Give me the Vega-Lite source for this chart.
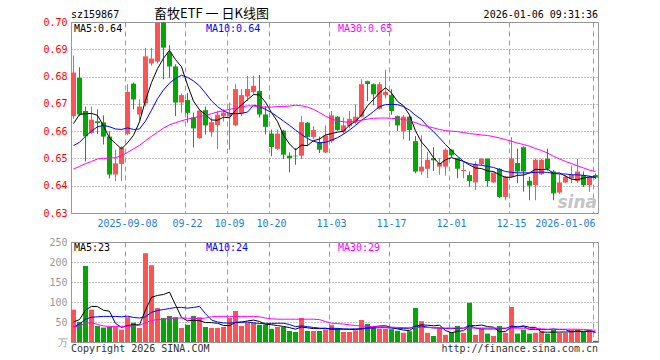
{
"$schema":"https://vega.github.io/schema/vega-lite/v6.json",
"background":"white",
"padding":{"left":10,"top":7,"right":5,"bottom":5},
"bounds":"flush",
"spacing":29,
"config":{"view":{"stroke":"#999999","strokeWidth":1},
"axis":{"domain":false,"ticks":false,"tickSize":0,"labelFont":"DejaVu Sans Mono","labelFontSize":10,"gridColor":"#9a9a9a","gridWidth":1},
"axisY":{"labelOverlap":false,"labelFlush":false,"labelBound":false,"grid":true,"gridDash":[1,2],"gridColor":"#8c8c8c","labelPadding":4,"minExtent":60,"maxExtent":60,"tickCount":12},
"text":{"font":"DejaVu Sans Mono","fontSize":10}},
"datasets":{"k":[
{"t":"2025-08-26","o":0.6655,"h":0.6877,"l":0.6645,"c":0.6815,"v":81,"d":"u","m5":0.6628,"m10":0.6547,"m30":0.6461,"v5":50,"v10":37.5,"v30":37.5},
{"t":"2025-08-27","o":0.6795,"h":0.6834,"l":0.6655,"c":0.6661,"v":50,"d":"d","m5":0.6661,"m10":0.6559,"m30":0.6471,"v5":56,"v10":45,"v30":40},
{"t":"2025-08-28","o":0.6674,"h":0.669,"l":0.6489,"c":0.6581,"v":190,"d":"d","m5":0.6664,"m10":0.6581,"m30":0.6481,"v5":80,"v10":57,"v30":47.5},
{"t":"2025-08-29","o":0.6593,"h":0.669,"l":0.659,"c":0.6642,"v":81,"d":"u","m5":0.6665,"m10":0.66,"m30":0.6489,"v5":89,"v10":62,"v30":48},
{"t":"2025-09-01","o":0.6636,"h":0.668,"l":0.659,"c":0.663,"v":40,"d":"d","m5":0.6658,"m10":0.6616,"m30":0.6498,"v5":88.4,"v10":63,"v30":44},
{"t":"2025-09-02","o":0.6632,"h":0.6658,"l":0.6551,"c":0.658,"v":36,"d":"d","m5":0.6619,"m10":0.6621,"m30":0.65,"v5":79.4,"v10":64,"v30":40},
{"t":"2025-09-03","o":0.658,"h":0.66,"l":0.6427,"c":0.6441,"v":37.5,"d":"d","m5":0.6575,"m10":0.6616,"m30":0.6501,"v5":76.9,"v10":64,"v30":39},
{"t":"2025-09-04","o":0.6441,"h":0.6532,"l":0.6417,"c":0.6482,"v":38,"d":"u","m5":0.6555,"m10":0.6608,"m30":0.6503,"v5":46.5,"v10":64,"v30":39},
{"t":"2025-09-05","o":0.648,"h":0.6545,"l":0.6417,"c":0.654,"v":31,"d":"u","m5":0.6535,"m10":0.6606,"m30":0.651,"v5":36.5,"v10":63,"v30":39},
{"t":"2025-09-08","o":0.659,"h":0.6772,"l":0.6585,"c":0.6744,"v":62,"d":"u","m5":0.6557,"m10":0.6612,"m30":0.6522,"v5":40.9,"v10":64.7,"v30":39.5},
{"t":"2025-09-09","o":0.6774,"h":0.6778,"l":0.668,"c":0.6716,"v":48,"d":"d","m5":0.6585,"m10":0.6606,"m30":0.6535,"v5":43.3,"v10":61.4,"v30":40},
{"t":"2025-09-10","o":0.6661,"h":0.6717,"l":0.664,"c":0.669,"v":35,"d":"u","m5":0.6634,"m10":0.6608,"m30":0.6548,"v5":42.8,"v10":59.9,"v30":42},
{"t":"2025-09-11","o":0.6702,"h":0.6905,"l":0.669,"c":0.6874,"v":222,"d":"u","m5":0.6713,"m10":0.6637,"m30":0.6565,"v5":79.6,"v10":63.1,"v30":48},
{"t":"2025-09-12","o":0.6848,"h":0.6905,"l":0.684,"c":0.6866,"v":192,"d":"u","m5":0.6778,"m10":0.6677,"m30":0.6581,"v5":111.8,"v10":74.2,"v30":54},
{"t":"2025-09-15","o":0.6855,"h":0.7,"l":0.6848,"c":0.6998,"v":85,"d":"u","m5":0.6829,"m10":0.6719,"m30":0.6596,"v5":116.4,"v10":78.7,"v30":56},
{"t":"2025-09-16","o":0.6998,"h":0.7,"l":0.679,"c":0.6906,"v":60,"d":"d","m5":0.6867,"m10":0.6751,"m30":0.6611,"v5":118.8,"v10":81.1,"v30":57},
{"t":"2025-09-17","o":0.6888,"h":0.6915,"l":0.6795,"c":0.6837,"v":65,"d":"d","m5":0.6896,"m10":0.6776,"m30":0.6623,"v5":124.8,"v10":83.8,"v30":59},
{"t":"2025-09-18","o":0.6837,"h":0.6845,"l":0.6655,"c":0.6705,"v":62,"d":"d","m5":0.6862,"m10":0.6793,"m30":0.6631,"v5":92.8,"v10":86.2,"v30":60},
{"t":"2025-09-19","o":0.6705,"h":0.6738,"l":0.6668,"c":0.6732,"v":35,"d":"u","m5":0.6836,"m10":0.6805,"m30":0.6638,"v5":61.4,"v10":86.6,"v30":60},
{"t":"2025-09-22","o":0.6714,"h":0.674,"l":0.6631,"c":0.6667,"v":43,"d":"d","m5":0.6769,"m10":0.6797,"m30":0.6644,"v5":53,"v10":84.7,"v30":59.5},
{"t":"2025-09-23","o":0.665,"h":0.6668,"l":0.654,"c":0.661,"v":65,"d":"d","m5":0.671,"m10":0.6784,"m30":0.6649,"v5":54,"v10":86.4,"v30":59},
{"t":"2025-09-24","o":0.6574,"h":0.668,"l":0.6572,"c":0.6675,"v":62,"d":"u","m5":0.6678,"m10":0.6766,"m30":0.6654,"v5":53.4,"v10":89.1,"v30":58},
{"t":"2025-09-25","o":0.6677,"h":0.669,"l":0.6588,"c":0.6621,"v":37.5,"d":"d","m5":0.6661,"m10":0.6739,"m30":0.6658,"v5":48.5,"v10":70.7,"v30":60},
{"t":"2025-09-26","o":0.6596,"h":0.665,"l":0.658,"c":0.6633,"v":35,"d":"u","m5":0.6641,"m10":0.6711,"m30":0.6664,"v5":48.5,"v10":55,"v30":63},
{"t":"2025-09-29","o":0.6622,"h":0.6675,"l":0.6535,"c":0.666,"v":35,"d":"u","m5":0.664,"m10":0.669,"m30":0.667,"v5":46.9,"v10":50,"v30":64},
{"t":"2025-09-30","o":0.6655,"h":0.668,"l":0.6635,"c":0.6668,"v":37.5,"d":"u","m5":0.6651,"m10":0.6674,"m30":0.6675,"v5":41.4,"v10":47.7,"v30":64},
{"t":"2025-10-09","o":0.6655,"h":0.6705,"l":0.6532,"c":0.6665,"v":60,"d":"u","m5":0.6649,"m10":0.6665,"m30":0.668,"v5":41,"v10":47.2,"v30":64},
{"t":"2025-10-10","o":0.6621,"h":0.6772,"l":0.6618,"c":0.6754,"v":77.5,"d":"u","m5":0.6676,"m10":0.6664,"m30":0.6684,"v5":49,"v10":48.8,"v30":64},
{"t":"2025-10-13","o":0.6665,"h":0.6754,"l":0.6655,"c":0.6732,"v":40,"d":"u","m5":0.6696,"m10":0.6665,"m30":0.6688,"v5":50,"v10":49.3,"v30":64},
{"t":"2025-10-14","o":0.6727,"h":0.6802,"l":0.671,"c":0.6754,"v":48,"d":"u","m5":0.6715,"m10":0.667,"m30":0.6693,"v5":52.6,"v10":49.8,"v30":64},
{"t":"2025-10-15","o":0.6744,"h":0.6803,"l":0.6735,"c":0.6766,"v":48,"d":"u","m5":0.6734,"m10":0.6695,"m30":0.6692,"v5":54.7,"v10":48.1,"v30":64},
{"t":"2025-10-16","o":0.6747,"h":0.6806,"l":0.665,"c":0.6661,"v":43,"d":"d","m5":0.6733,"m10":0.669,"m30":0.669,"v5":51.3,"v10":46.2,"v30":63},
{"t":"2025-10-17","o":0.6661,"h":0.6692,"l":0.6588,"c":0.6616,"v":44,"d":"d","m5":0.6706,"m10":0.668,"m30":0.6688,"v5":44.6,"v10":46.8,"v30":60},
{"t":"2025-10-20","o":0.6591,"h":0.6606,"l":0.6508,"c":0.6542,"v":33,"d":"d","m5":0.6668,"m10":0.6668,"m30":0.6688,"v5":43.2,"v10":46.6,"v30":58},
{"t":"2025-10-21","o":0.6535,"h":0.6606,"l":0.653,"c":0.6591,"v":37.5,"d":"u","m5":0.6635,"m10":0.6653,"m30":0.669,"v5":41.1,"v10":46.9,"v30":57},
{"t":"2025-10-22","o":0.6602,"h":0.6605,"l":0.6498,"c":0.6514,"v":37.5,"d":"d","m5":0.6585,"m10":0.6637,"m30":0.669,"v5":39,"v10":46.9,"v30":57},
{"t":"2025-10-23","o":0.651,"h":0.6522,"l":0.6449,"c":0.6501,"v":27.5,"d":"d","m5":0.6553,"m10":0.6621,"m30":0.6692,"v5":35.9,"v10":43.6,"v30":57},
{"t":"2025-10-24","o":0.651,"h":0.6538,"l":0.6477,"c":0.6508,"v":25,"d":"d","m5":0.6531,"m10":0.6604,"m30":0.6695,"v5":32.1,"v10":38.4,"v30":57},
{"t":"2025-10-27","o":0.651,"h":0.6655,"l":0.6498,"c":0.6633,"v":60,"d":"u","m5":0.6549,"m10":0.6588,"m30":0.6693,"v5":37.5,"v10":40.4,"v30":57},
{"t":"2025-10-28","o":0.6631,"h":0.6633,"l":0.6547,"c":0.6579,"v":27.5,"d":"d","m5":0.6547,"m10":0.6573,"m30":0.6688,"v5":35.5,"v10":38.3,"v30":57},
{"t":"2025-10-29","o":0.6579,"h":0.6618,"l":0.657,"c":0.6604,"v":27.5,"d":"u","m5":0.6565,"m10":0.6563,"m30":0.668,"v5":33.5,"v10":36.3,"v30":57},
{"t":"2025-10-30","o":0.6559,"h":0.658,"l":0.652,"c":0.6532,"v":27.5,"d":"d","m5":0.6571,"m10":0.6557,"m30":0.6668,"v5":33.5,"v10":34.7,"v30":56},
{"t":"2025-10-31","o":0.6522,"h":0.6621,"l":0.652,"c":0.6584,"v":31,"d":"u","m5":0.6586,"m10":0.6559,"m30":0.6655,"v5":34.7,"v10":33.4,"v30":51},
{"t":"2025-11-03","o":0.6563,"h":0.6674,"l":0.6557,"c":0.6658,"v":43,"d":"u","m5":0.6591,"m10":0.6567,"m30":0.6644,"v5":31.3,"v10":34.4,"v30":47},
{"t":"2025-11-04","o":0.6653,"h":0.6655,"l":0.66,"c":0.6604,"v":33,"d":"d","m5":0.6596,"m10":0.6576,"m30":0.6638,"v5":32.4,"v10":34,"v30":46},
{"t":"2025-11-05","o":0.6596,"h":0.665,"l":0.6588,"c":0.6621,"v":25,"d":"u","m5":0.66,"m10":0.6589,"m30":0.6634,"v5":31.9,"v10":32.7,"v30":45},
{"t":"2025-11-06","o":0.6618,"h":0.6674,"l":0.661,"c":0.6645,"v":25,"d":"u","m5":0.6622,"m10":0.6604,"m30":0.6633,"v5":31.4,"v10":32.5,"v30":43},
{"t":"2025-11-07","o":0.6631,"h":0.6698,"l":0.6625,"c":0.6653,"v":29,"d":"u","m5":0.6636,"m10":0.6621,"m30":0.6636,"v5":31,"v10":32.9,"v30":41},
{"t":"2025-11-10","o":0.6653,"h":0.679,"l":0.665,"c":0.6772,"v":55,"d":"u","m5":0.6659,"m10":0.664,"m30":0.664,"v5":33.4,"v10":32.4,"v30":40},
{"t":"2025-11-11","o":0.6783,"h":0.6785,"l":0.671,"c":0.6773,"v":45,"d":"d","m5":0.6693,"m10":0.6655,"m30":0.6644,"v5":35.8,"v10":34.1,"v30":39},
{"t":"2025-11-12","o":0.6772,"h":0.6775,"l":0.6695,"c":0.6735,"v":37.5,"d":"d","m5":0.6716,"m10":0.6672,"m30":0.6647,"v5":38.3,"v10":35.1,"v30":38.5},
{"t":"2025-11-13","o":0.6682,"h":0.678,"l":0.668,"c":0.6772,"v":33,"d":"u","m5":0.6741,"m10":0.669,"m30":0.6648,"v5":39.9,"v10":35.7,"v30":38},
{"t":"2025-11-14","o":0.6732,"h":0.6825,"l":0.672,"c":0.6744,"v":33,"d":"u","m5":0.6759,"m10":0.6697,"m30":0.6648,"v5":40.7,"v10":35.9,"v30":37.5},
{"t":"2025-11-17","o":0.6732,"h":0.6754,"l":0.666,"c":0.6674,"v":32,"d":"d","m5":0.674,"m10":0.6698,"m30":0.6647,"v5":36.1,"v10":34.8,"v30":37},
{"t":"2025-11-18","o":0.6655,"h":0.6657,"l":0.66,"c":0.6621,"v":28,"d":"d","m5":0.6709,"m10":0.6697,"m30":0.6645,"v5":32.7,"v10":34.3,"v30":36.5},
{"t":"2025-11-19","o":0.66,"h":0.666,"l":0.657,"c":0.6653,"v":23,"d":"u","m5":0.6693,"m10":0.669,"m30":0.6643,"v5":29.8,"v10":34.1,"v30":36},
{"t":"2025-11-20","o":0.6653,"h":0.6655,"l":0.6565,"c":0.6604,"v":27,"d":"d","m5":0.6659,"m10":0.6677,"m30":0.6638,"v5":28.6,"v10":34.3,"v30":35.5},
{"t":"2025-11-21","o":0.6563,"h":0.6582,"l":0.6446,"c":0.6452,"v":85,"d":"d","m5":0.6601,"m10":0.6658,"m30":0.6631,"v5":39,"v10":39.9,"v30":36},
{"t":"2025-11-24","o":0.6452,"h":0.6585,"l":0.644,"c":0.647,"v":52,"d":"u","m5":0.656,"m10":0.6643,"m30":0.6623,"v5":43,"v10":39.6,"v30":36.5},
{"t":"2025-11-25","o":0.6462,"h":0.6524,"l":0.6428,"c":0.6495,"v":23,"d":"u","m5":0.6535,"m10":0.6618,"m30":0.6617,"v5":42,"v10":37.4,"v30":36},
{"t":"2025-11-26","o":0.6501,"h":0.6541,"l":0.6454,"c":0.6493,"v":15,"d":"d","m5":0.6503,"m10":0.6598,"m30":0.6612,"v5":40.4,"v10":35.1,"v30":35.5},
{"t":"2025-11-27","o":0.647,"h":0.6501,"l":0.644,"c":0.6483,"v":35,"d":"u","m5":0.6479,"m10":0.6575,"m30":0.6606,"v5":42,"v10":35.3,"v30":35},
{"t":"2025-11-28","o":0.647,"h":0.6538,"l":0.6437,"c":0.6532,"v":18,"d":"u","m5":0.6495,"m10":0.6551,"m30":0.6602,"v5":28.6,"v10":33.8,"v30":35},
{"t":"2025-12-01","o":0.6532,"h":0.6535,"l":0.6505,"c":0.6511,"v":25,"d":"d","m5":0.6503,"m10":0.6529,"m30":0.66,"v5":23.2,"v10":33.1,"v30":35},
{"t":"2025-12-02","o":0.6501,"h":0.6503,"l":0.6427,"c":0.6462,"v":40,"d":"d","m5":0.6496,"m10":0.6508,"m30":0.6598,"v5":26.6,"v10":34.3,"v30":35},
{"t":"2025-12-03","o":0.6454,"h":0.6489,"l":0.6427,"c":0.6458,"v":23,"d":"u","m5":0.6489,"m10":0.6489,"m30":0.6595,"v5":28.2,"v10":34.3,"v30":35},
{"t":"2025-12-04","o":0.6439,"h":0.6452,"l":0.6396,"c":0.6417,"v":98,"d":"d","m5":0.6476,"m10":0.6481,"m30":0.6591,"v5":40.8,"v10":41.4,"v30":35},
{"t":"2025-12-05","o":0.6412,"h":0.6489,"l":0.6384,"c":0.6477,"v":18,"d":"u","m5":0.6465,"m10":0.6477,"m30":0.6589,"v5":40.8,"v10":34.7,"v30":35},
{"t":"2025-12-08","o":0.6479,"h":0.6501,"l":0.6475,"c":0.6499,"v":33,"d":"u","m5":0.6463,"m10":0.6475,"m30":0.6586,"v5":42.4,"v10":32.8,"v30":35},
{"t":"2025-12-09","o":0.6499,"h":0.65,"l":0.6396,"c":0.6417,"v":21,"d":"d","m5":0.6454,"m10":0.6471,"m30":0.6584,"v5":38.6,"v10":32.6,"v30":35},
{"t":"2025-12-10","o":0.6412,"h":0.6452,"l":0.641,"c":0.6448,"v":15,"d":"u","m5":0.6452,"m10":0.6467,"m30":0.658,"v5":37,"v10":32.6,"v30":35},
{"t":"2025-12-11","o":0.6462,"h":0.6465,"l":0.6355,"c":0.6359,"v":40,"d":"d","m5":0.644,"m10":0.6459,"m30":0.6575,"v5":25.4,"v10":33.1,"v30":35},
{"t":"2025-12-12","o":0.6359,"h":0.6436,"l":0.6347,"c":0.6433,"v":23,"d":"u","m5":0.6431,"m10":0.6452,"m30":0.6569,"v5":26.4,"v10":33.6,"v30":35},
{"t":"2025-12-15","o":0.6433,"h":0.6578,"l":0.643,"c":0.6499,"v":87.5,"d":"u","m5":0.6431,"m10":0.6449,"m30":0.6563,"v5":37.3,"v10":39.9,"v30":35},
{"t":"2025-12-16","o":0.6483,"h":0.6536,"l":0.6409,"c":0.6452,"v":21,"d":"d","m5":0.6438,"m10":0.6447,"m30":0.6556,"v5":37.3,"v10":38,"v30":34.5},
{"t":"2025-12-17","o":0.6541,"h":0.6544,"l":0.6378,"c":0.6452,"v":31,"d":"d","m5":0.6439,"m10":0.6447,"m30":0.6551,"v5":40.5,"v10":38.8,"v30":34.5},
{"t":"2025-12-18","o":0.6418,"h":0.6433,"l":0.6347,"c":0.64,"v":21,"d":"d","m5":0.6447,"m10":0.6447,"m30":0.6545,"v5":36.7,"v10":31.1,"v30":34},
{"t":"2025-12-19","o":0.6402,"h":0.65,"l":0.6347,"c":0.6495,"v":23,"d":"u","m5":0.646,"m10":0.6449,"m30":0.6536,"v5":36.7,"v10":31.6,"v30":34},
{"t":"2025-12-22","o":0.6442,"h":0.6499,"l":0.644,"c":0.6495,"v":27,"d":"u","m5":0.6459,"m10":0.645,"m30":0.6529,"v5":24.6,"v10":31,"v30":33},
{"t":"2025-12-23","o":0.6499,"h":0.6536,"l":0.6455,"c":0.6462,"v":21,"d":"d","m5":0.6461,"m10":0.6449,"m30":0.652,"v5":24.6,"v10":31,"v30":32},
{"t":"2025-12-24","o":0.6452,"h":0.6458,"l":0.6347,"c":0.6372,"v":31,"d":"d","m5":0.6445,"m10":0.6445,"m30":0.6508,"v5":24.6,"v10":32.6,"v30":32},
{"t":"2025-12-25","o":0.6375,"h":0.6442,"l":0.637,"c":0.6412,"v":23,"d":"u","m5":0.6447,"m10":0.6443,"m30":0.6498,"v5":25,"v10":30.9,"v30":32},
{"t":"2025-12-26","o":0.6412,"h":0.6439,"l":0.641,"c":0.6433,"v":23,"d":"u","m5":0.6435,"m10":0.6443,"m30":0.6489,"v5":25,"v10":30.9,"v30":32},
{"t":"2025-12-29","o":0.6427,"h":0.6474,"l":0.641,"c":0.6439,"v":31,"d":"u","m5":0.6424,"m10":0.644,"m30":0.6481,"v5":25.8,"v10":25.2,"v30":32},
{"t":"2025-12-30","o":0.6417,"h":0.6499,"l":0.641,"c":0.6452,"v":31,"d":"u","m5":0.6422,"m10":0.644,"m30":0.6473,"v5":27.8,"v10":26.2,"v30":32},
{"t":"2025-12-31","o":0.6439,"h":0.6452,"l":0.6395,"c":0.6402,"v":25,"d":"d","m5":0.6428,"m10":0.6438,"m30":0.6465,"v5":26.6,"v10":25.6,"v30":31.5},
{"t":"2026-01-05","o":0.6402,"h":0.6436,"l":0.6378,"c":0.6433,"v":31,"d":"u","m5":0.6432,"m10":0.6435,"m30":0.6457,"v5":28.2,"v10":26.6,"v30":30},
{"t":"2026-01-06","o":0.6439,"h":0.6445,"l":0.6425,"c":0.643,"v":3,"d":"d","m5":0.6431,"m10":0.643,"m30":0.6452,"v5":24.2,"v10":24.6,"v30":29.5}
]},
"vconcat":[
{
"width":527,"height":191,
"data":{"name":"k"},
"encoding":{"x":{"field":"t","type":"ordinal","title":null,"scale":{"paddingInner":0.1667,"paddingOuter":0},
 "axis":{"values":["2025-09-08","2025-09-22","2025-10-09","2025-10-20","2025-11-03","2025-11-17","2025-12-01","2025-12-15","2026-01-06"],"bandPosition":0,"grid":true,"gridDash":[5,4],"labelColor":"#1f80d0","labelPadding":5,"labelAngle":0,"labelOverlap":false,"labelBound":false,
 "labelExpr":"datum.value == '2025-09-08' || datum.value == '2026-01-06' ? datum.value : slice(datum.value, 5)",
 "labelAlign":{"condition":{"test":"datum.value == '2026-01-06'","value":"right"},"value":"center"}}}},
"layer":[
{"mark":{"type":"rule","strokeWidth":1},"encoding":{
 "y":{"field":"l","type":"quantitative","title":null,"scale":{"domain":[0.63,0.70],"nice":false,"zero":false},
  "axis":{"values":[0.63,0.64,0.65,0.66,0.67,0.68,0.69,0.70],"tickCount":12,"format":".2f","labelColor":"#ff0000","labelOverlap":false,"grid":true,"gridDash":[1,2],"gridColor":"#8c8c8c"}},
 "y2":{"field":"h"},
 "color":{"field":"d","type":"nominal","scale":{"domain":["u","d"],"range":["#ff5252","#00a800"]},"legend":null}}},
{"mark":{"type":"bar"},"encoding":{
 "y":{"field":"o","type":"quantitative","title":null,"axis":{"values":[0.63,0.64,0.65,0.66,0.67,0.68,0.69,0.70],"tickCount":12,"format":".2f","labelColor":"#ff0000","labelOverlap":false,"grid":true,"gridDash":[1,2],"gridColor":"#8c8c8c"}},
 "y2":{"field":"c"},
 "color":{"field":"d","type":"nominal","legend":null}}},
{"mark":{"type":"line","color":"#000000","strokeWidth":1},"encoding":{"y":{"field":"m5","type":"quantitative","title":null,"axis":{"values":[0.63,0.64,0.65,0.66,0.67,0.68,0.69,0.70],"tickCount":12,"format":".2f","labelColor":"#ff0000","labelOverlap":false,"grid":true,"gridDash":[1,2],"gridColor":"#8c8c8c"}}}},
{"mark":{"type":"line","color":"#0000ff","strokeWidth":1},"encoding":{"y":{"field":"m10","type":"quantitative","title":null,"axis":{"values":[0.63,0.64,0.65,0.66,0.67,0.68,0.69,0.70],"tickCount":12,"format":".2f","labelColor":"#ff0000","labelOverlap":false,"grid":true,"gridDash":[1,2],"gridColor":"#8c8c8c"}}}},
{"mark":{"type":"line","color":"#ff00ff","strokeWidth":1},"encoding":{"y":{"field":"m30","type":"quantitative","title":null,"axis":{"values":[0.63,0.64,0.65,0.66,0.67,0.68,0.69,0.70],"tickCount":12,"format":".2f","labelColor":"#ff0000","labelOverlap":false,"grid":true,"gridDash":[1,2],"gridColor":"#8c8c8c"}}}},
{"data":{"values":[{"t":"2025-08-26","s":"MA5:0.64","f":"#000000"},{"t":"2025-09-25","s":"MA10:0.64","f":"#0000ff"},{"t":"2025-11-04","s":"MA30:0.65","f":"#ff00ff"}]},
 "mark":{"type":"text","align":"left","baseline":"top","dx":3,"dy":2,"fontSize":10},
 "encoding":{"x":{"field":"t","type":"ordinal","bandPosition":0},"y":{"datum":0.70,"type":"quantitative","title":null},"text":{"field":"s"},"fill":{"field":"f","type":"nominal","scale":null,"legend":null}}},
{"data":{"values":[{"t":"2025-08-26","s":"sz159867"}]},
 "mark":{"type":"text","align":"left","baseline":"middle","dy":-7,"fontSize":10,"color":"#000000"},
 "encoding":{"x":{"field":"t","type":"ordinal","bandPosition":0},"y":{"datum":0.70,"type":"quantitative","title":null},"text":{"field":"s"}}},
{"data":{"values":[{"t":"2025-09-26","s":"畜牧ETF 一 日K线图"}]},
 "mark":{"type":"text","align":"center","baseline":"middle","dy":-8,"fontSize":13,"font":"Noto Sans CJK SC","color":"#000000"},
 "encoding":{"x":{"field":"t","type":"ordinal"},"y":{"datum":0.70,"type":"quantitative","title":null},"text":{"field":"s"}}},
{"data":{"values":[{"t":"2026-01-06","s":"2026-01-06 09:31:36"}]},
 "mark":{"type":"text","align":"right","baseline":"middle","dy":-7,"fontSize":10,"color":"#000000"},
 "encoding":{"x":{"field":"t","type":"ordinal","bandPosition":1},"y":{"datum":0.70,"type":"quantitative","title":null},"text":{"field":"s"}}},
{"data":{"values":[{"t":"2026-01-06","s":"sina"}]},
 "mark":{"type":"text","align":"right","baseline":"middle","dx":-1,"fontSize":17,"font":"DejaVu Sans","fontStyle":"italic","fontWeight":"bold","color":"#c4c4c4"},
 "encoding":{"x":{"field":"t","type":"ordinal","bandPosition":1},"y":{"datum":0.6338,"type":"quantitative","title":null},"text":{"field":"s"}}}
]},
{
"width":527,"height":100,
"data":{"name":"k"},
"encoding":{"x":{"field":"t","type":"ordinal","title":null,"scale":{"paddingInner":0.1667,"paddingOuter":0},
 "axis":{"values":["2025-09-08","2025-09-22","2025-10-09","2025-10-20","2025-11-03","2025-11-17","2025-12-01","2025-12-15","2026-01-06"],"bandPosition":0,"grid":true,"gridDash":[5,4],"labels":false}}},
"layer":[
{"mark":{"type":"bar"},"encoding":{
 "y":{"field":"v","type":"quantitative","title":null,"scale":{"domain":[0,250],"nice":false},
  "axis":{"values":[0,50,100,150,200,250],"tickCount":12,"labelColor":"#999999","labelOverlap":false,"labelExpr":"datum.value == 0 ? '万' : datum.label","grid":true,"gridDash":[1,2],"gridColor":"#8c8c8c"}},
 "color":{"field":"d","type":"nominal","legend":null}}},
{"mark":{"type":"line","color":"#000000","strokeWidth":1},"encoding":{"y":{"field":"v5","type":"quantitative","title":null,"axis":{"values":[0,50,100,150,200,250],"tickCount":12,"labelColor":"#999999","labelOverlap":false,"labelExpr":"datum.value == 0 ? '万' : datum.label","grid":true,"gridDash":[1,2],"gridColor":"#8c8c8c"}}}},
{"mark":{"type":"line","color":"#0000ff","strokeWidth":1},"encoding":{"y":{"field":"v10","type":"quantitative","title":null,"axis":{"values":[0,50,100,150,200,250],"tickCount":12,"labelColor":"#999999","labelOverlap":false,"labelExpr":"datum.value == 0 ? '万' : datum.label","grid":true,"gridDash":[1,2],"gridColor":"#8c8c8c"}}}},
{"mark":{"type":"line","color":"#ff00ff","strokeWidth":1},"encoding":{"y":{"field":"v30","type":"quantitative","title":null,"axis":{"values":[0,50,100,150,200,250],"tickCount":12,"labelColor":"#999999","labelOverlap":false,"labelExpr":"datum.value == 0 ? '万' : datum.label","grid":true,"gridDash":[1,2],"gridColor":"#8c8c8c"}}}},
{"data":{"values":[{"t":"2025-08-26","s":"MA5:23","f":"#000000"},{"t":"2025-09-25","s":"MA10:24","f":"#0000ff"},{"t":"2025-11-04","s":"MA30:29","f":"#ff00ff"}]},
 "mark":{"type":"text","align":"left","baseline":"top","dx":3,"dy":1,"fontSize":10},
 "encoding":{"x":{"field":"t","type":"ordinal","bandPosition":0},"y":{"datum":250,"type":"quantitative","title":null},"text":{"field":"s"},"fill":{"field":"f","type":"nominal","scale":null,"legend":null}}},
{"data":{"values":[{"t":"2025-08-26","s":"Copyright 2026 SINA.COM"}]},
 "mark":{"type":"text","align":"left","baseline":"middle","dy":7,"fontSize":10,"color":"#333333"},
 "encoding":{"x":{"field":"t","type":"ordinal","bandPosition":0},"y":{"datum":0,"type":"quantitative","title":null},"text":{"field":"s"}}},
{"data":{"values":[{"t":"2026-01-06","s":"http://finance.sina.com.cn"}]},
 "mark":{"type":"text","align":"right","baseline":"middle","dy":7,"fontSize":10,"color":"#333333"},
 "encoding":{"x":{"field":"t","type":"ordinal","bandPosition":1},"y":{"datum":0,"type":"quantitative","title":null},"text":{"field":"s"}}}
]}
]
}
